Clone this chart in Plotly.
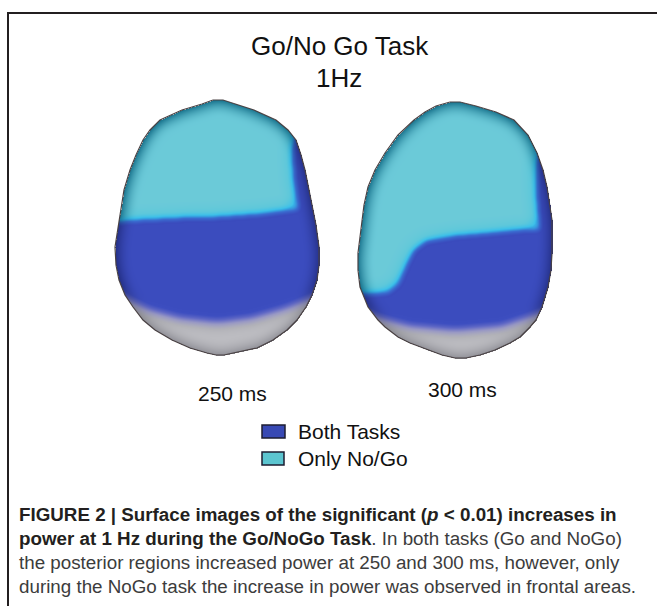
import numpy as np
import plotly.graph_objects as go

W, H = 657, 606

# ---- head outlines: for each row y, the left and right edge x ----
left_head_y = [100, 104, 110, 120, 130, 140, 155, 170, 190, 210, 225, 247, 265, 280, 295, 307, 320, 330, 340, 348, 353, 355]
left_head_l = [213, 202, 182, 160, 150, 143, 136, 130, 124, 121, 118, 115, 116, 119, 125, 133, 143, 155, 172, 190, 207, 216]
left_head_r = [223, 236, 254, 276, 288, 296, 301, 305, 309, 313, 316, 319, 319, 317, 312, 306, 297, 287, 273, 257, 234, 224]

right_head_y = [102, 106, 112, 120, 135, 153, 170, 187, 205, 220, 253, 270, 287, 307, 320, 327, 337, 343, 350, 355, 358]
right_head_l = [450, 436, 425, 414, 398, 385, 375, 368, 364, 362, 358, 358, 360, 368, 378, 385, 398, 410, 428, 442, 455]
right_head_r = [460, 476, 496, 514, 528, 537, 543, 547, 550, 552, 552, 551, 548, 542, 536, 530, 520, 510, 495, 480, 466]

# ---- "Only No/Go" (cyan) region: lower edge along x, right limit along y ----
left_cyan_bx = [110, 140, 180, 217, 260, 290, 325]
left_cyan_by = [222, 220, 218, 217, 214, 210, 206]
left_cyan_ry = [95, 130, 150, 180, 225]
left_cyan_rx = [304, 296, 292, 294, 300]

right_cyan_bx = [352, 372, 388, 398, 406, 414, 426, 455, 490, 520, 558]
right_cyan_by = [292, 294, 292, 284, 266, 250, 241, 236, 233, 230, 228]
right_cyan_ry = [95, 130, 160, 200, 240]
right_cyan_rx = [552, 542, 537, 537, 540]

# ---- grey (non-significant) region: upper edge along x ----
left_grey_bx = [110, 130, 150, 180, 217, 250, 285, 310, 325]
left_grey_by = [288, 298, 308, 316, 320, 316, 306, 296, 290]
right_grey_bx = [352, 380, 410, 455, 500, 530, 558]
right_grey_by = [304, 316, 324, 328, 324, 314, 304]

time_labels = ["250 ms", "300 ms"]
legend_labels = ["Both Tasks", "Only No/Go"]

# colour ramp from non-significant (0) through "Both Tasks" (0.5) to "Only No/Go" (1)
ramp_pos = [0.00, 0.08, 0.20, 0.32, 0.44, 0.52, 0.62, 0.72, 0.78, 0.90, 1.00]
ramp_col = ["#c6c6ca", "#b2b2b8", "#9898c4", "#6a70c6", "#3d4ec0", "#3a4bbd",
            "#3a6cd0", "#36a6e2", "#3ec0e8", "#5fc8da", "#6ecad8"]

xs = np.arange(105, 566)
ys = np.arange(92, 366)
X, Y = np.meshgrid(xs, ys)
split_x = 338
left_side = X < split_x


def head_mask(hy, hl, hr):
    lo = np.interp(Y, hy, hl)
    hi = np.interp(Y, hy, hr)
    return (Y >= hy[0]) & (Y <= hy[-1]) & (X >= lo) & (X <= hi)


def blur(a, r):
    k = np.ones(2 * r + 1) / (2 * r + 1)
    out = a.astype(float)
    for _ in range(2):
        out = np.apply_along_axis(lambda v: np.convolve(np.pad(v, r, mode="edge"), k, mode="valid"), 0, out)
        out = np.apply_along_axis(lambda v: np.convolve(np.pad(v, r, mode="edge"), k, mode="valid"), 1, out)
    return out


def hex_rgb(h):
    return [int(h[i:i + 2], 16) for i in (1, 3, 5)]


inside = np.where(left_side,
                  head_mask(left_head_y, left_head_l, left_head_r),
                  head_mask(right_head_y, right_head_l, right_head_r))

cyan = np.where(left_side,
                (Y < np.interp(X, left_cyan_bx, left_cyan_by)) & (X < np.interp(Y, left_cyan_ry, left_cyan_rx)),
                (Y < np.interp(X, right_cyan_bx, right_cyan_by)) & (X < np.interp(Y, right_cyan_ry, right_cyan_rx)))
grey = np.where(left_side,
                Y > np.interp(X, left_grey_bx, left_grey_by),
                Y > np.interp(X, right_grey_bx, right_grey_by))

c = blur(cyan, 3)
c_deep = np.clip(2 * blur(cyan, 9) - 1, 0, 1)
g = blur(grey, 5)
g_deep = np.clip(2 * blur(grey, 9) - 1, 0, 1)

level = 0.5 + c * (0.27 + 0.21 * c_deep) - g * (0.3 + 0.16 * g_deep)
level = np.clip(level, 0, 1)

# map the level field through the colour ramp
ramp = np.array([hex_rgb(h) for h in ramp_col], dtype=float)
rgb = np.stack([np.interp(level, ramp_pos, ramp[:, k]) for k in range(3)], axis=-1)

# darker rim along the scalp edge: teal over cyan, navy over blue, grey over grey
hb = blur(inside, 8)
edge = np.clip((1 - hb) * 2.0, 0, 1)[..., None]
cw = c[..., None]
gw = g[..., None]
for weight, col, strength in [(cw * (1 - gw), [10, 100, 128], 0.8),
                              ((1 - cw) * (1 - gw), [22, 30, 100], 0.6),
                              (gw, [90, 90, 100], 0.45)]:
    a = edge * weight * strength
    rgb = rgb * (1 - a) + np.array(col, dtype=float) * a

alpha = inside.astype(float)[..., None]
img = np.concatenate([np.round(rgb), alpha], axis=-1)

fig = go.Figure()
fig.add_trace(go.Image(z=img, colormodel="rgba", x0=int(xs[0]), dx=1, y0=int(ys[0]), dy=1,
                       zmin=[0, 0, 0, 0], zmax=[255, 255, 255, 1], hoverinfo="skip"))

# head outlines
for hy, hl, hr in [(left_head_y, left_head_l, left_head_r), (right_head_y, right_head_l, right_head_r)]:
    ox = list(hl) + list(hr)[::-1] + [hl[0]]
    oy = list(hy) + list(hy)[::-1] + [hy[0]]
    fig.add_trace(go.Scatter(x=ox, y=oy, mode="lines", line=dict(color="#4a4244", width=1.2),
                             hoverinfo="skip", showlegend=False))

shapes = [
    dict(type="line", x0=7, x1=W, y0=13, y1=13, line=dict(color="#231f20", width=2)),
    dict(type="line", x0=8, x1=8, y0=12, y1=H, line=dict(color="#231f20", width=2)),
    dict(type="rect", x0=262, x1=285, y0=425, y1=438, fillcolor="#3849b4",
         line=dict(color="#1c1c30", width=1.5)),
    dict(type="rect", x0=262, x1=284, y0=452, y1=465, fillcolor="#5cc5d0",
         line=dict(color="#1c1c30", width=1.5)),
]

sans = "Liberation Sans, Arial, sans-serif"
ann = [
    dict(x=340, y=46, text="Go/No Go Task", font=dict(family=sans, size=26, color="#111111"),
         xanchor="center", yanchor="middle"),
    dict(x=339, y=78, text="1Hz", font=dict(family=sans, size=26, color="#111111"),
         xanchor="center", yanchor="middle"),
    dict(x=232, y=393, text=time_labels[0], font=dict(family=sans, size=21, color="#111111"),
         xanchor="center", yanchor="middle"),
    dict(x=462, y=389, text=time_labels[1], font=dict(family=sans, size=21, color="#111111"),
         xanchor="center", yanchor="middle"),
    dict(x=296, y=431, text=legend_labels[0], font=dict(family=sans, size=21, color="#111111"),
         xanchor="left", yanchor="middle"),
    dict(x=296, y=458, text=legend_labels[1], font=dict(family=sans, size=21, color="#111111"),
         xanchor="left", yanchor="middle"),
]

bold_c = "#231f20"
reg_c = "#3c3c3c"
caption = [
    "<b>FIGURE 2 | Surface images of the significant (<i>p</i> &lt; 0.01) increases in</b>",
    "<b>power at 1 Hz during the Go/NoGo Task</b><span style='color:%s'>. In both tasks (Go and NoGo)</span>" % reg_c,
    "<span style='color:%s'>the posterior regions increased power at 250 and 300 ms, however, only</span>" % reg_c,
    "<span style='color:%s'>during the NoGo task the increase in power was observed in frontal areas.</span>" % reg_c,
]
baselines = [521, 545, 569, 593]
for line, b in zip(caption, baselines):
    ann.append(dict(x=17, y=b - 7, text=line, font=dict(family=sans, size=18.8, color=bold_c),
                    xanchor="left", yanchor="middle"))

for a in ann:
    a.update(xref="x", yref="y", showarrow=False)

fig.update_layout(
    width=W, height=H,
    margin=dict(l=0, r=0, t=0, b=0),
    paper_bgcolor="white", plot_bgcolor="white",
    xaxis=dict(range=[0, W], visible=False, fixedrange=True),
    yaxis=dict(range=[H, 0], visible=False, fixedrange=True),
    shapes=shapes, annotations=ann, showlegend=False,
)
fig.write_html("out.html")
